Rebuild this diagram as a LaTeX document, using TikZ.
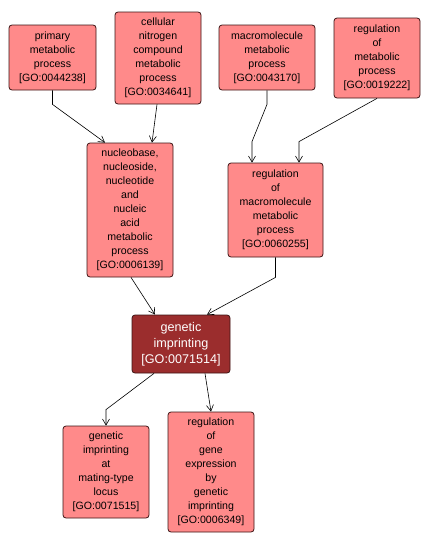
\documentclass[tikz,border=0pt]{standalone}
\usepackage{fontspec}
\setmainfont{Liberation Sans}
\usetikzlibrary{arrows.meta}
\definecolor{lightnode}{RGB}{255,138,138}
\definecolor{darknode}{RGB}{155,45,45}
\definecolor{nodeborder}{RGB}{60,20,20}
\tikzset{
  goterm/.style={draw=nodeborder, line width=0.8pt, fill=lightnode, rounded corners=3pt,
    inner sep=0pt, align=center, font=\fontsize{10.6}{14}\selectfont, text=black},
  goselected/.style={goterm, fill=darknode, text=white, font=\fontsize{12.6}{16}\selectfont},
  edge/.style={draw=black, line width=0.6pt, -{Straight Barb[length=6pt,width=7pt]}}
}
\begin{document}
\begin{tikzpicture}[x=1pt,y=-1pt]
\useasboundingbox (0,0) rectangle (430,546);
\node[goterm, minimum width=87pt, minimum height=65pt] (prim) at (52.5,57.5) {primary\\metabolic\\process\\{[GO:0044238]}};
\node[goterm, minimum width=86pt, minimum height=92pt] (cell) at (158,58) {cellular\\nitrogen\\compound\\metabolic\\process\\{[GO:0034641]}};
\node[goterm, minimum width=96pt, minimum height=65pt] (macro) at (267,57.5) {macromolecule\\metabolic\\process\\{[GO:0043170]}};
\node[goterm, minimum width=86pt, minimum height=80pt] (regmet) at (377,58) {regulation\\of\\metabolic\\process\\{[GO:0019222]}};
\node[goterm, minimum width=86pt, minimum height=134pt] (nuc) at (130,210) {nucleobase,\\nucleoside,\\nucleotide\\and\\nucleic\\acid\\metabolic\\process\\{[GO:0006139]}};
\node[goterm, minimum width=95pt, minimum height=94pt] (regmac) at (275.5,210) {regulation\\of\\macromolecule\\metabolic\\process\\{[GO:0060255]}};
\node[goselected, minimum width=98pt, minimum height=58pt] (gen) at (181,344) {genetic\\imprinting\\{[GO:0071514]}};
\node[goterm, minimum width=86pt, minimum height=92pt] (mat) at (106,472) {genetic\\imprinting\\at\\mating-type\\locus\\{[GO:0071515]}};
\node[goterm, minimum width=86pt, minimum height=120pt] (reggene) at (211,472) {regulation\\of\\gene\\expression\\by\\genetic\\imprinting\\{[GO:0006349]}};

\draw[edge] (prim.south) -- ++(0,14) -- ([xshift=-25pt]nuc.north);
\draw[edge] ([xshift=-1pt]cell.south) -- ([xshift=22pt]nuc.north);
\draw[edge] (macro.south) -- ++(0,14) -- ([xshift=-23.5pt,yshift=21pt]regmac.north) -- ([xshift=-23.5pt]regmac.north);
\draw[edge] (regmet.south) -- ([xshift=23.5pt,yshift=21pt]regmac.north) -- ([xshift=23.5pt]regmac.north);
\draw[edge] ([xshift=1pt]nuc.south) -- ([xshift=-26pt]gen.north);
\draw[edge] (regmac.south) -- ++(0,20) -- ([xshift=26pt]gen.north);
\draw[edge] ([xshift=-27pt]gen.south) -- ([yshift=16pt]mat.north) -- (mat.north);
\draw[edge] ([xshift=24pt]gen.south) -- (reggene.north);
\end{tikzpicture}
\end{document}
